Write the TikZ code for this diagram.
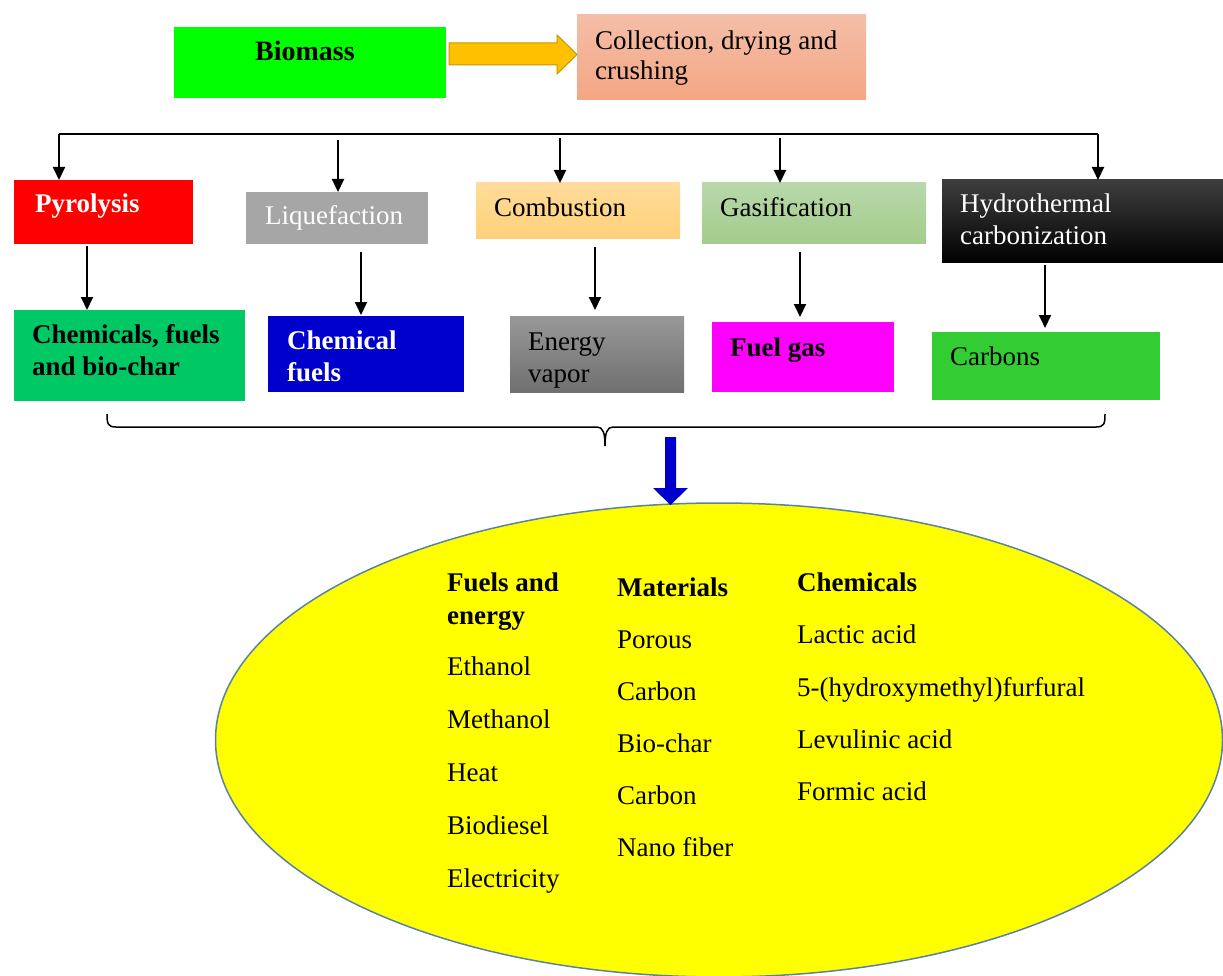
\documentclass[tikz,border=0pt]{standalone}
\usepackage{fontspec}
\setmainfont{Liberation Serif}
\usetikzlibrary{arrows.meta,shapes.geometric}
\definecolor{cBio}{RGB}{0,255,0}
\definecolor{cArrow}{RGB}{255,192,0}
\definecolor{cArrowE}{RGB}{200,150,0}
\definecolor{cCollT}{RGB}{244,190,168}
\definecolor{cCollB}{RGB}{244,166,131}
\definecolor{cPyro}{RGB}{255,0,0}
\definecolor{cLiq}{RGB}{166,166,166}
\definecolor{cCombT}{RGB}{255,220,155}
\definecolor{cCombB}{RGB}{255,208,120}
\definecolor{cGasT}{RGB}{184,216,170}
\definecolor{cGasB}{RGB}{164,204,140}
\definecolor{cChem}{RGB}{0,200,100}
\definecolor{cBlue}{RGB}{0,0,204}
\definecolor{cEnT}{RGB}{152,152,152}
\definecolor{cEnB}{RGB}{112,112,112}
\definecolor{cHydT}{RGB}{62,62,62}
\definecolor{cMag}{RGB}{255,0,255}
\definecolor{cCarb}{RGB}{51,204,51}
\definecolor{cYel}{RGB}{255,255,0}
\definecolor{cEll}{RGB}{90,130,165}
\begin{document}
\begin{tikzpicture}[x=1pt,y=-1pt,
  box/.style={rectangle, inner sep=0pt, outer sep=0pt, anchor=north west},
  tx/.style={anchor=base west, inner sep=0pt, font=\fontsize{27}{32}\selectfont},
  txb/.style={anchor=base west, inner sep=0pt, font=\fontsize{27}{32}\selectfont\bfseries},
  conn/.style={line width=2pt, -{Triangle[width=12pt,length=13pt]}}]
\useasboundingbox (0,0) rectangle (1223,976);

% top row
\node[box, fill=cBio, minimum width=272pt, minimum height=71pt] (bio) at (174,27) {};
\node[box, top color=cCollT, bottom color=cCollB, minimum width=289pt, minimum height=85pt] (coll) at (577,15) {};
\node[txb, font=\fontsize{28}{32}\selectfont\bfseries] (tbio) at (255,61) {Biomass};
\node[tx] (tcoll1) at (595,50) {Collection, drying and};
\node[tx] (tcoll2) at (595,80) {crushing};
\draw[fill=cArrow, draw=cArrowE, line width=1pt] (449,43) -- (557,43) -- (557,35) -- (577,54.5) -- (557,74) -- (557,65) -- (449,65) -- cycle;

% process row
\node[box, fill=cPyro, minimum width=179pt, minimum height=64pt] (pyro) at (14,180) {};
\node[box, fill=cLiq, minimum width=182pt, minimum height=52pt] (liq) at (246,192) {};
\node[box, top color=cCombT, bottom color=cCombB, minimum width=204pt, minimum height=56pt] (comb) at (476,183) {};
\node[box, top color=cGasT, bottom color=cGasB, minimum width=224pt, minimum height=61pt] (gas) at (702,183) {};
\node[box, top color=cHydT, middle color=black, bottom color=black, minimum width=281pt, minimum height=83pt] (hydro) at (942,180) {};
\node[txb, text=white] (tpyro) at (35,213) {Pyrolysis};
\node[tx, text=white] (tliq) at (265,225) {Liquefaction};
\node[tx] (tcomb) at (494,217) {Combustion};
\node[tx] (tgas) at (720,217) {Gasification};
\node[tx, text=white] (thyd1) at (960,213) {Hydrothermal};
\node[tx, text=white] (thyd2) at (960,245) {carbonization};

% product row
\node[box, fill=cChem, minimum width=231pt, minimum height=91pt] (chem) at (14,310) {};
\node[box, fill=cBlue, minimum width=196pt, minimum height=76pt] (cfuel) at (268,316) {};
\node[box, top color=cEnT, bottom color=cEnB, minimum width=174pt, minimum height=76pt] (energy) at (510,316) {};
\node[box, fill=cMag, minimum width=182pt, minimum height=70pt] (fgas) at (712,322) {};
\node[box, fill=cCarb, minimum width=228pt, minimum height=68pt] (carb) at (932,332) {};
\node[txb] (tchem1) at (32,343) {Chemicals, fuels};
\node[txb] (tchem2) at (32,375) {and bio-char};
\node[txb, text=white] (tcf1) at (287,349) {Chemical};
\node[txb, text=white] (tcf2) at (287,381) {fuels};
\node[tx] (ten1) at (528,350) {Energy};
\node[tx] (ten2) at (528,382) {vapor};
\node[txb] (tfg) at (730,356) {Fuel gas};
\node[tx] (tcarb) at (950,365) {Carbons};

% distribution connectors
\coordinate (t0) at (59,134);
\coordinate (t4) at (1098,134);
\coordinate (s1) at (338,140);
\coordinate (s2) at (560,138);
\coordinate (s3) at (780,138);
\draw[line width=2pt] (t0) -- (t4);
\draw[conn] (t0) -- (t0 |- pyro.north);
\draw[conn] (t4) -- (t4 |- hydro.north);
\draw[conn] (s1) -- (s1 |- liq.north);
\draw[conn] (s2) -- (s2 |- comb.north);
\draw[conn] (s3) -- (s3 |- gas.north);

\coordinate (d1) at (87,246);
\coordinate (d2) at (361,252);
\coordinate (d3) at (595,247);
\coordinate (d4) at (800,252);
\coordinate (d5) at (1045,265);
\draw[conn] (d1) -- (d1 |- chem.north);
\draw[conn, shorten >=1pt] (d2) -- (d2 |- cfuel.north);
\draw[conn, shorten >=6pt] (d3) -- (d3 |- energy.north);
\draw[conn, shorten >=5pt] (d4) -- (d4 |- fgas.north);
\draw[conn, shorten >=4pt] (d5) -- (d5 |- carb.north);

% brace
\coordinate (brL) at (107,414);
\coordinate (brR) at (1105,414);
\coordinate (brM) at (605,446);
\draw[line width=1.5pt] (brL) .. controls (107,424) and (108,427) .. (116,427) -- (597,427)
  .. controls (603,427) and (605,433) .. (brM)
  .. controls (605,433) and (607,427) .. (613,427) -- (1096,427)
  .. controls (1104,427) and (1105,424) .. (brR);

% result ellipse
\node[ellipse, draw=cEll, line width=1.5pt, fill=cYel, minimum width=1007pt, minimum height=474pt, inner sep=0pt] (prod) at (719,740) {};
\fill[cBlue] (665,437) -- (676,437) -- (676,488) -- (688,488) -- (670.5,505) -- (653,488) -- (665,488) -- cycle;

% ellipse texts
\node[txb] (h1a) at (447,591) {Fuels and};
\node[txb] (h1b) at (447,624) {energy};
\node[txb] (h2) at (617,596) {Materials};
\node[txb] (h3) at (797,591) {Chemicals};
\node[tx] (a1) at (447,675) {Ethanol};
\node[tx] (a2) at (447,728) {Methanol};
\node[tx] (a3) at (447,781) {Heat};
\node[tx] (a4) at (447,834) {Biodiesel};
\node[tx] (a5) at (447,887) {Electricity};
\node[tx] (b1) at (617,648) {Porous};
\node[tx] (b2) at (617,700) {Carbon};
\node[tx] (b3) at (617,752) {Bio-char};
\node[tx] (b4) at (617,804) {Carbon};
\node[tx] (b5) at (617,856) {Nano fiber};
\node[tx] (c1) at (797,643) {Lactic acid};
\node[tx] (c2) at (797,696) {5-(hydroxymethyl)furfural};
\node[tx] (c3) at (797,748) {Levulinic acid};
\node[tx] (c4) at (797,800) {Formic acid};
\end{tikzpicture}
\end{document}
